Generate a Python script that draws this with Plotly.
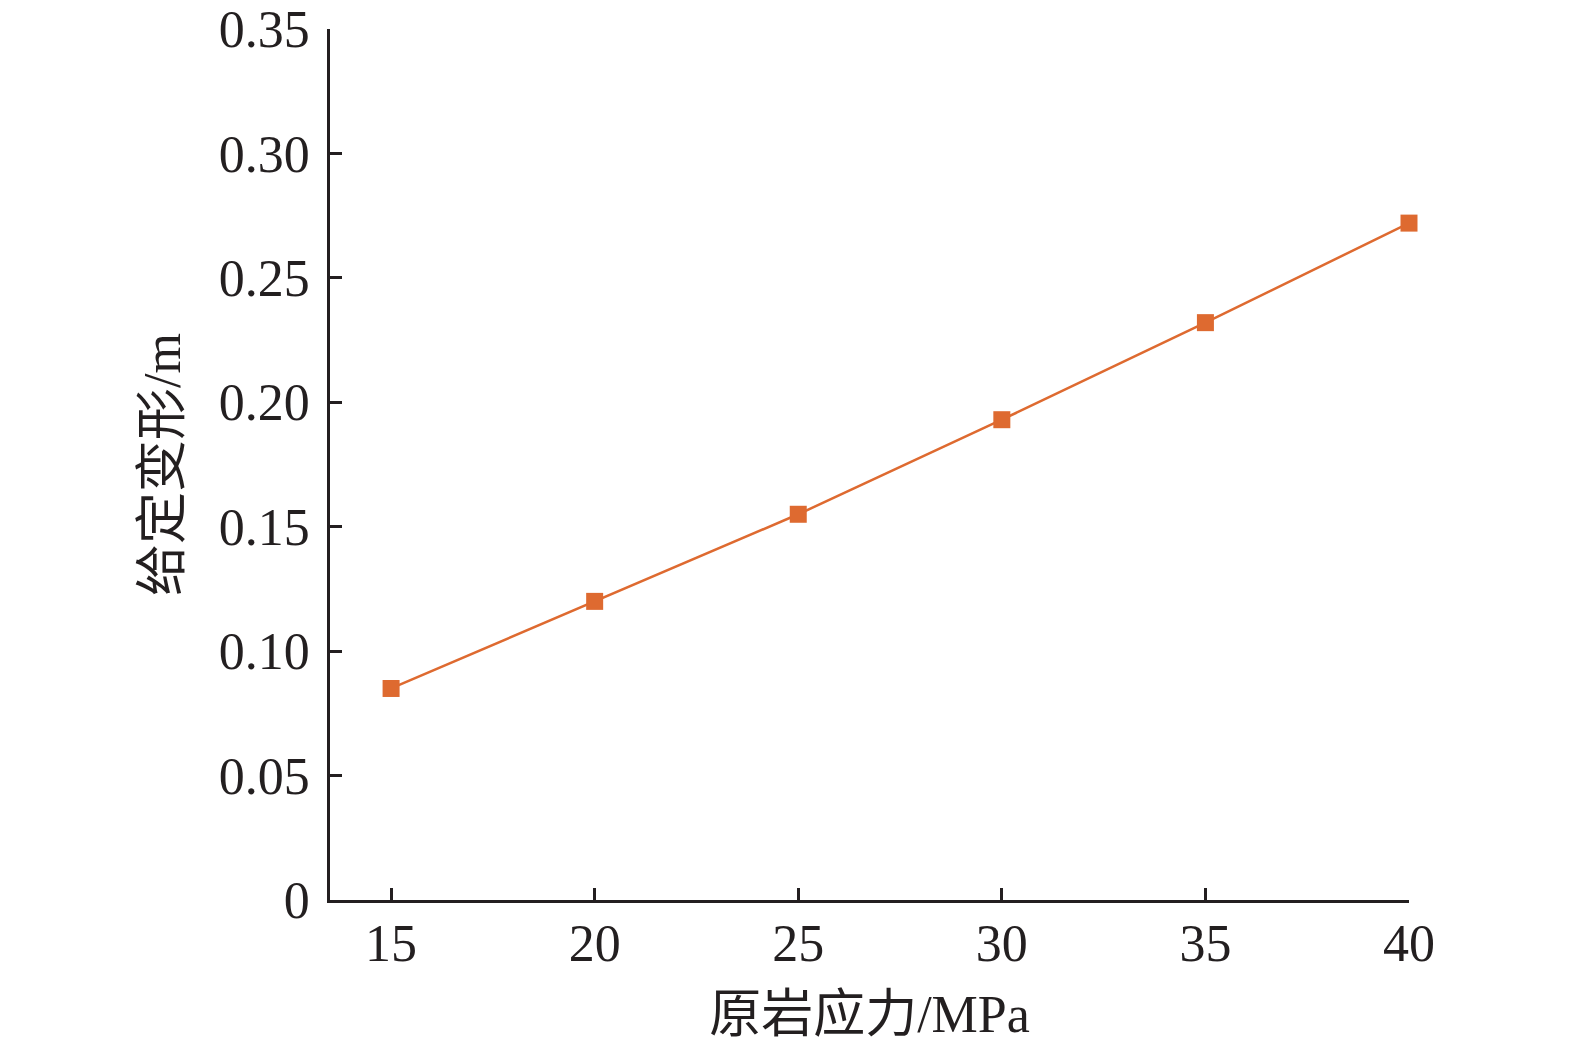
"""Given deformation vs. in-situ rock stress."""

import plotly.graph_objects as go

# data
stress_mpa = [15, 20, 25, 30, 35, 40]
deformation_m = [0.085, 0.120, 0.155, 0.193, 0.232, 0.272]

x_ticks = [15, 20, 25, 30, 35, 40]
y_ticks = [0, 0.05, 0.10, 0.15, 0.20, 0.25, 0.30, 0.35]
y_tick_text = ["0", "0.05", "0.10", "0.15", "0.20", "0.25", "0.30", "0.35"]

LINE_COLOR = "#DE6A30"
AXIS_COLOR = "#231F20"
FONT = "Liberation Serif, Times New Roman, Noto Sans CJK SC, serif"

fig = go.Figure(
    go.Scatter(
        x=stress_mpa,
        y=deformation_m,
        mode="lines+markers",
        line=dict(color=LINE_COLOR, width=2.5),
        marker=dict(symbol="square", size=17, color=LINE_COLOR),
        cliponaxis=False,
        showlegend=False,
    )
)

axis_common = dict(
    showline=True,
    linecolor=AXIS_COLOR,
    linewidth=2.5,
    ticks="inside",
    ticklen=12,
    tickwidth=2.5,
    tickcolor=AXIS_COLOR,
    showgrid=False,
    zeroline=False,
    automargin=False,
    tickfont=dict(family=FONT, size=52, color=AXIS_COLOR),
    title_font=dict(family=FONT, size=52, color=AXIS_COLOR),
)

fig.update_xaxes(
    range=[13.5, 40],
    tickvals=x_ticks,
    title_text="原岩应力/MPa",
    title_standoff=25,
    ticklabelstandoff=-4,
    **axis_common,
)
fig.update_yaxes(
    range=[0, 0.35],
    tickvals=y_ticks,
    ticktext=y_tick_text,
    title_text="给定变形/m",
    title_standoff=22,
    ticklabelstandoff=7,
    **axis_common,
)

fig.update_layout(
    width=1575,
    height=1053,
    margin=dict(l=330, r=166, t=29, b=153),
    plot_bgcolor="white",
    paper_bgcolor="white",
)

# drop the default 8px body margin so the figure sits at the page origin
fig.write_html(
    "out.html",
    config={"displayModeBar": False},
    post_script="document.body.style.margin = '0';",
)
